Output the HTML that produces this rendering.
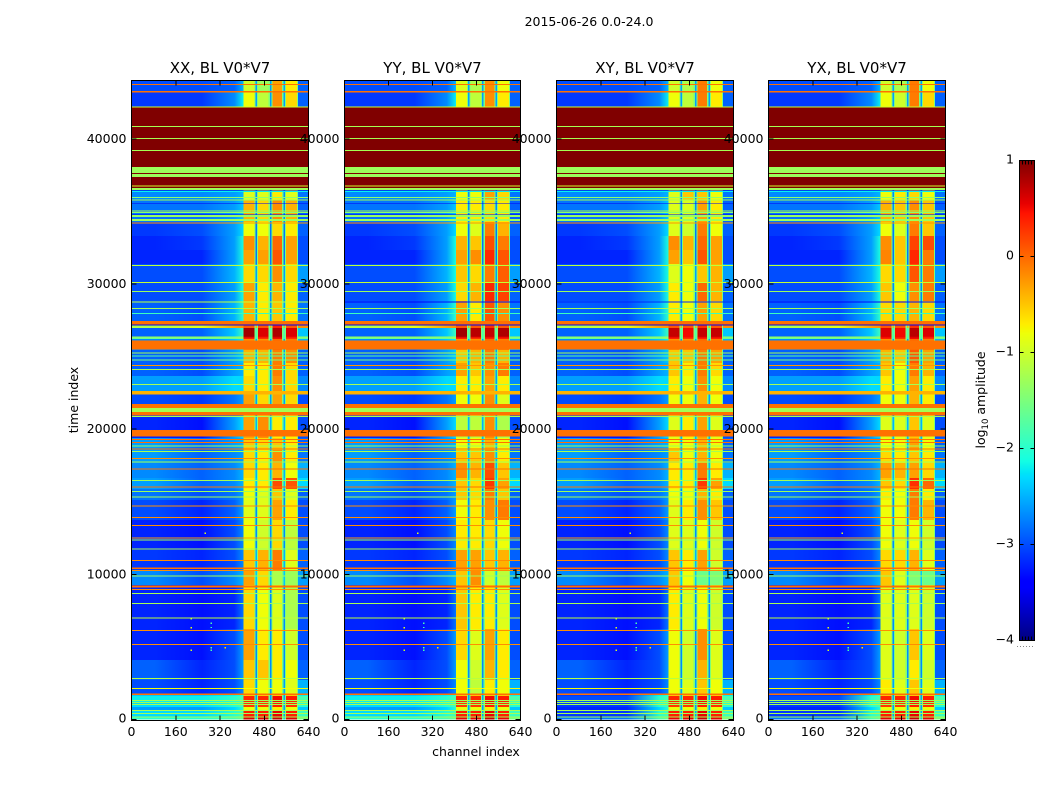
<!DOCTYPE html>
<html lang="en">
<head>
<meta charset="utf-8">
<title>2015-06-26 0.0-24.0</title>
<style>
html,body{margin:0;padding:0;background:#fff;}
svg{display:block;}
text{font-family:"DejaVu Sans","Liberation Sans",sans-serif;font-size:12.5px;fill:#000;}
.title{font-size:15px;}
</style>
</head>
<body>
<svg id="figure" width="1050" height="800" viewBox="0 0 1050 800" xmlns="http://www.w3.org/2000/svg">
  <text x="589" y="26" text-anchor="middle">2015-06-26 0.0-24.0</text>
  <text x="476" y="756" text-anchor="middle">channel index</text>
  <text x="78" y="400" text-anchor="middle" transform="rotate(-90 78 400)">time index</text>
  <g id="panels"></g>
  <g id="colorbar"></g>
  <text x="985" y="400" text-anchor="middle" transform="rotate(-90 985 400)">log<tspan dy="3" font-size="8.5" style="font-size:8.5px">10</tspan><tspan dy="-3"> amplitude</tspan></text>
</svg>
<script>
// ---------- axis data ----------
const channelTicks = [0, 160, 320, 480, 640];
const timeTicks = [0, 10000, 20000, 30000, 40000];
const colorbarTicks = [1, 0, -1, -2, -3, -4];
const panelTitles = ['XX, BL V0*V7', 'YY, BL V0*V7', 'XY, BL V0*V7', 'YX, BL V0*V7'];

// channel boundaries of the heatmap columns, and which value feeds each column
const channelEdges = [0,405,445,449,454,458,496,500,506,510,545,549,555,559,598,602,640];
const columnSource = ['bg','p0','edge','gap','edge','p1','edge','gap','edge','p2','edge','gap','edge','p3','edge','right'];
const edgeValue = -1.5;
// channels at which the background readings below were taken
const backgroundChannels = [85, 255, 372, 405];

// start time of each horizontal section (log10 amplitude values below are per section)
const sectionStart = [0,172,586,861,1206,1619,1757,2722,4100,6236,9267,10232,11679,13746,15123,15881,16639,17673,18569,19396,20842,21738,22634,23667,24563,25459,26217,26320,26389,26974,27147,27456,28834,30144,31384,32348,33313,34278,35794,36483,42202,43236];

const bgLeft  = [-2.0,-2.3,-2.6,-2.3,-2.2,-2.4,-3.0,-2.9,-3.2,-3.2,-2.7,-3.1,-3.2,-3.0,-2.8,-2.6,-2.7,-2.6,-2.6,-3.2,-3.0,-3.0,-2.6,-2.9,-2.9,-2.7,-1.6,-1.3,-2.9,-1.2,-2.0,-2.9,-3.0,-3.0,-3.2,-3.2,-3.1,-2.8,-2.7,1,-3.1,-3.0];
const bgRight = [-2.0,-2.3,-2.6,-2.3,-2.2,-2.4,-3.2,-3.2,-3.3,-3.3,-3.0,-3.2,-3.3,-3.2,-3.0,-2.9,-2.9,-2.9,-2.9,-3.3,-3.0,-3.1,-2.6,-3.0,-3.0,-2.8,-1.6,-1.3,-2.9,-0.9,-2.0,-3.0,-3.0,-3.0,-3.2,-3.1,-3.0,-2.8,-2.7,1,-3.1,-3.0];
const fadeNear = [-1.8,-2.0,-2.3,-2.0,-2.0,-2.2,-3.0,-3.0,-3.0,-3.2,-2.7,-3.0,-3.0,-2.9,-2.8,-2.7,-2.7,-2.7,-2.6,-2.6,-2.8,-2.8,-2.3,-2.6,-2.6,-2.4,-1.6,-1.3,-2.4,-0.3,-2.0,-2.5,-2.6,-2.5,-2.6,-2.6,-2.6,-2.6,-2.6,1,-2.7,-2.9];
const fadeFar = [-1.6,-1.8,-2.0,-1.8,-1.8,-2.0,-2.7,-2.6,-2.6,-2.8,-2.5,-2.7,-2.7,-2.6,-2.6,-2.5,-2.5,-2.6,-2.5,-2.3,-2.6,-2.6,-2.3,-2.5,-2.4,-2.2,-1.4,-1.3,-1.9,-0.2,-2.0,-2.0,-2.1,-2.1,-2.1,-2.1,-2.3,-2.4,-2.5,1,-2.2,-2.5];
const gapLevel = [-2.4,-2.6,-2.6,-2.6,-2.6,-2.6,-2.6,-2.7,-2.7,-2.7,-2.4,-2.5,-2.7,-2.7,-2.7,-2.4,-2.5,-2.5,-2.5,-2.5,-2.6,-2.6,-2.6,-2.6,-2.6,-2.6,-2.0,-1.8,-1.8,-0.4,-2.0,-2.6,-2.7,-2.6,-2.8,-2.8,-2.8,-2.7,-2.7,1,-2.6,-2.6];
const rightBand = [-1.5,-1.9,-2.4,-2.0,-1.8,-2.2,-2.5,-2.9,-3.0,-3.0,-2.6,-2.9,-3.0,-3.0,-2.9,-2.3,-2.5,-2.8,-2.9,-3.0,-3.0,-3.0,-2.7,-2.9,-2.9,-2.5,-1.6,-1.3,-2.4,-0.2,-2.0,-2.8,-2.9,-2.6,-3.0,-3.0,-2.9,-2.9,-2.8,1,-2.9,-2.9];
// XY / YX panels are darker at the left of the lowest sections
const crossBackgroundShift = [-0.8,-0.8,-0.6,-0.8,-0.8,-0.7,0,0,0,0,0,0,0,0,0,0,0,0,0,0,0,0,0,0,0,0,0,0,0,0,0,0,0,0,0,0,0,0,0,0,0,0];

// the four bright channel blocks, per section, one array per polarisation
const xxPeaks = [[.6,.6,.7,.6],[.4,.4,.55,.4],[-.8,-.8,-.7,-.8],[.25,.25,.4,.3],[.35,.35,.5,.4],[-.5,-.5,-.5,-.5],[-.6,-.8,-.8,-.9],[-.5,-.5,-.7,-.8],[-.3,-.7,-.7,-1],[-.6,-.8,-.9,-1.2],[-.3,-.6,-1.2,-1.3],[-.5,-.4,-.1,-.9],[-.8,-1,-.6,-1.1],[-.9,-.9,-.3,-.7],[-.8,-.9,-.5,-.9],[-.7,-.7,.15,.1],[-.6,-.7,-.4,-.8],[-.6,-.7,-.2,-.7],[-.5,-.6,-.5,-.7],[-.3,-.2,-.7,-.7],[-.7,-.7,-.7,-.7],[-.3,-.6,-.3,-.6],[-.6,-.7,-.2,-.6],[-.7,-.7,-.1,-.6],[-.4,-.4,-.1,-.2],[-.2,-.2,0,-.1],[.4,.3,.5,.3],[.7,.5,.7,.5],[.85,.6,.8,.6],[.1,.1,.4,.1],[-.1,-.1,-.1,-.1],[-.4,-.7,-.5,-.7],[-.3,-.7,-.4,-.7],[-.6,-.6,-.2,-.6],[-.3,-.3,.1,-.3],[-.2,-.4,0,-.3],[-.8,-.8,-.6,-.7],[-.4,-.6,-.2,-.4],[-.9,-.9,-.7,-.9],[1,1,1,1],[-.8,-1.1,-.2,-.6],[-1,-1.3,-.3,-.7]];
const yyPeaks = [[.55,.55,.7,.55],[.4,.4,.55,.4],[-.8,-.8,-.7,-.8],[.25,.25,.4,.3],[.35,.35,.5,.4],[-.5,-.5,-.5,-.5],[-.8,-1.1,-.7,-.8],[-.8,-1,-.4,-.7],[-.6,-.9,-.3,-.7],[-.5,-.7,-.7,-.9],[-.5,-.2,-1,-1.1],[-.3,-.3,-.5,-.4],[-.7,-.7,-.6,-.8],[-.8,-.7,-.2,-.1],[-.5,-.6,-.1,-.5],[-.5,-.6,.25,-.3],[-.2,-.4,.15,-.5],[-.5,-.5,-.2,-.7],[-.8,-.8,-.4,-.8],[-1.1,-1.1,-.2,-1.2],[-.9,-.9,-.4,-.9],[-.8,-.8,-.2,-.9],[-.7,-.7,-.3,-.7],[-.3,-.5,-.2,-.1],[-.5,-.4,-.1,-.4],[-.2,-.2,0,-.1],[.4,.3,.4,.4],[.7,.6,.6,.6],[.85,.75,.7,.8],[.1,.1,.3,.1],[-.1,-.1,-.1,-.1],[-.3,-.7,.1,-.2],[-.6,-.4,.35,.2],[-.5,-.6,-.1,.05],[-.3,-.2,.35,.1],[-.4,-.5,.15,-.1],[-.8,-.9,-.1,-.4],[-.7,-.7,-.6,-.7],[-.8,-.8,-.3,-.6],[1,1,1,1],[-.8,-1.1,-.2,-.7],[-.9,-1.2,-.2,-.8]];
const xyPeaks = [[.55,.55,.7,.55],[.4,.4,.55,.4],[-.8,-.8,-.7,-.8],[.25,.25,.4,.3],[.35,.35,.5,.4],[-.5,-.5,-.5,-.5],[-.8,-.9,-.5,-.8],[-.8,-1,-.4,-.9],[-.8,-1,-.2,-.9],[-.7,-.9,-.8,-1],[-.5,-.8,-1.6,-1.5],[-.5,-.7,-.3,-1],[-.9,-.9,-.8,-1],[-.9,-.7,-.2,-.5],[-.8,-.8,-.4,-.7],[-.7,-.7,.25,-.3],[-.7,-.7,-.1,-.7],[-.5,-.8,-.4,-.8],[-.8,-.8,-.4,-.8],[-.9,-.7,-.3,-.9],[-.8,-.8,-.4,-.8],[-.8,-.8,-.4,-.8],[-.7,-.8,-.2,-.8],[-.5,-.7,-.1,-.6],[-.5,-.5,-.1,-.3],[-.2,-.2,0,-.1],[.4,.3,.4,.4],[.6,.5,.6,.6],[.7,.5,.7,.7],[.1,.1,.3,.1],[-.1,-.1,-.1,-.1],[-.7,-.8,-.3,-.6],[-.7,-.8,0,-.4],[-.9,-.8,-.5,-.4],[-.3,-.5,.1,-.3],[-.2,-.4,0,-.3],[-.9,-1,-.1,-.8],[-.9,-.9,-.3,-.7],[-.9,-.5,-.5,-.8],[1,1,1,1],[-.8,-1.1,-.1,-.7],[-1,-1.2,-.1,-.8]];
const yxPeaks = [[.55,.55,.7,.55],[.4,.4,.55,.4],[-.8,-.8,-.7,-.8],[.25,.25,.4,.3],[.35,.35,.5,.4],[-.5,-.5,-.5,-.5],[-.7,-.9,-.5,-.9],[-.9,-1,-.7,-1],[-.9,-1,-.5,-.9],[-.9,-.9,-.9,-1],[-.5,-.9,-1.5,-1.6],[-.6,-.6,-.4,-.9],[-.8,-.9,-.8,-1],[-.8,-.8,-.1,-.4],[-.7,-.8,-.1,-.7],[-.5,-.6,.3,0],[-.3,-.4,-.3,-.6],[-.6,-.7,-.5,-.7],[-.8,-.8,-.3,-.8],[-.9,-.9,-.5,-.9],[-.8,-.8,-.4,-.8],[-.8,-.8,-.4,-.7],[-.7,-.8,-.3,-.7],[-.5,-.8,-.1,-.4],[-.4,-.5,.1,-.3],[-.2,-.2,0,-.1],[.4,.3,.5,.3],[.55,.5,.65,.5],[.6,.5,.75,.6],[.1,.1,.3,.1],[-.1,-.1,-.1,-.1],[-.6,-.6,-.4,-.6],[-.5,-.8,-.2,-.1],[-.6,-.6,.1,-.1],[-.15,-.5,.35,-.1],[-.2,-.5,.2,.15],[-.8,-.9,-.1,-.5],[-.4,-.5,-.2,-.5],[-.8,-.7,-.6,-.8],[1,1,1,1],[-.8,-1,-.1,-.6],[-1,-1.2,-.1,-.8]];
const panelPeaks = [xxPeaks, yyPeaks, xyPeaks, yxPeaks];

// full-width horizontal stripes: start time, duration, log10 amplitude (an array = value per panel)
const stripeStart = [43717,43180,42167,36620,40823,39996,39170,37654,37378,36724,36483,36435,36345,35931,35745,35539,35001,34884,34781,34622,34347,34154,31246,30075,29455,28718,28270,27939,27202,27133,25507,25231,25004,24728,24356,24081,23033,22406,21462,21187,20959,20842,19485,19258,19051,18823,18603,18431,17948,17721,17218,16433,15999,15675,15316,14696,13897,13346,12492,12333,11734,10934,10369,10232,9846,9109,8936,8661,7972,6980,6098,5133,2790,2129,1709,1275,1137,999,586,379,138];
const stripeSpan = [69,103,69,5547,69,69,69,413,207,69,137,48,69,69,69,48,69,69,48,137,137,69,69,69,69,69,69,69,255,69,593,69,69,69,69,69,69,227,276,275,228,69,462,69,69,69,69,69,69,69,69,69,69,69,69,69,69,69,69,69,69,69,96,69,69,138,69,69,69,69,69,69,69,69,96,69,69,69,69,69,69];
const stripeLevel = [-.05,-.05,-1,1,-1.25,-1.25,-1.25,-1.3,-1.3,-1,-1.3,-3.6,-2.2,-1.4,-1.25,-3.5,-1.25,-1.4,-3.5,-1.35,-1.3,-.25,-1.1,-1.05,-1.3,[-1.1,-3.4,-3.2,-3.4],-1.25,-1.9,-.05,-3.5,-.05,-1.25,-1.7,-1.5,-.25,-1.25,-1.25,-.4,-.05,-1.25,-.05,-1.25,-.05,-.05,-.05,-1.25,-.05,-1.25,-.2,-1.25,-.05,-1.25,-.05,-1.3,-1.25,-.2,-.2,-.2,-.3,-1.25,-1.25,-.2,-.05,-.2,-1.25,-.05,-.2,-1.25,-1.25,-1.1,-.2,-.2,-1.15,-.8,-.05,-1.25,-1.3,-1.25,-1.25,-1.25,-1.25];

// isolated bright pixels
const hotChannel = [214,214,286,286,214,286,337,214,286,264];
const hotTime = [7000,6980,6700,6400,6380,5000,5000,4830,4830,12900];
const hotLevel = [-.8,-1.2,-1.8,-1.9,-.9,-1.7,-.6,-1,-1.8,-.9];

// ---------- scales ----------
const SVGNS = 'http://www.w3.org/2000/svg';
const channelMax = 640, timeMax = 44000;
const plotTop = 80.7, plotBottom = 719.7;
const panelLeft = [131.5, 344.5, 556.5, 768.5];
const panelWidth = [177, 176, 177, 177];
const frameTop = 80.5, frameBottom = 720.5;

function timeY(t) { return plotBottom - (t / timeMax) * (plotBottom - plotTop); }
function channelX(p, c) { return panelLeft[p] + (c / channelMax) * panelWidth[p]; }

function lerpStops(t, xs, ys) {
  for (let i = 1; i < xs.length; i++) {
    if (t <= xs[i]) return ys[i-1] + (ys[i] - ys[i-1]) * (t - xs[i-1]) / (xs[i] - xs[i-1]);
  }
  return ys[ys.length - 1];
}
function jetColor(v) {
  const t = Math.max(0, Math.min(1, (v + 4) / 5));
  const r = lerpStops(t, [0,.35,.66,.89,1], [0,0,1,1,.5]);
  const g = lerpStops(t, [0,.125,.375,.64,.91,1], [0,0,1,1,0,0]);
  const b = lerpStops(t, [0,.11,.34,.65,1], [.5,1,1,0,0]);
  return 'rgb(' + Math.round(r*255) + ',' + Math.round(g*255) + ',' + Math.round(b*255) + ')';
}

function addRect(parent, x, y, w, h, fill) {
  const el = document.createElementNS(SVGNS, 'rect');
  el.setAttribute('x', x);
  el.setAttribute('y', y);
  el.setAttribute('width', w);
  el.setAttribute('height', h);
  el.setAttribute('fill', fill);
  parent.appendChild(el);
  return el;
}
function addLine(parent, x1, y1, x2, y2) {
  const el = document.createElementNS(SVGNS, 'line');
  el.setAttribute('x1', x1);
  el.setAttribute('y1', y1);
  el.setAttribute('x2', x2);
  el.setAttribute('y2', y2);
  el.setAttribute('stroke', '#000');
  el.setAttribute('stroke-width', '1');
  el.setAttribute('shape-rendering', 'crispEdges');
  
  parent.appendChild(el);
  return el;
}
function addText(parent, x, y, anchor, str) {
  const el = document.createElementNS(SVGNS, 'text');
  el.setAttribute('x', x);
  el.setAttribute('y', y);
  el.setAttribute('text-anchor', anchor);
  
  el.textContent = str;
  parent.appendChild(el);
  return el;
}
function columnValue(source, s, p) {
  if (source === 'gap') return gapLevel[s];
  if (source === 'right') return rightBand[s];
  if (source === 'edge') return s === 39 ? 1 : edgeValue;
  return panelPeaks[p][s][Number(source.charAt(1))];
}
// background fill of one section: runs through the values read at backgroundChannels
function backgroundFill(defs, s, p) {
  const shift = p >= 2 ? crossBackgroundShift[s] : 0;
  const readings = [bgLeft[s] + shift, bgRight[s] + shift, fadeNear[s], fadeFar[s]];
  const id = 'bg-p' + p + '-s' + s;
  const grad = document.createElementNS(SVGNS, 'linearGradient');
  grad.setAttribute('id', id);
  
  
  readings.forEach(function (level, i) {
    const stop = document.createElementNS(SVGNS, 'stop');
    stop.setAttribute('offset', backgroundChannels[i] / channelEdges[1]);
    stop.setAttribute('stop-color', jetColor(level));
    grad.appendChild(stop);
  });
  defs.appendChild(grad);
  return 'url(#' + id + ')';
}

// ---------- panels ----------
const panelsRoot = document.getElementById('panels');
panelTitles.forEach(function (title, p) {
  const panel = document.createElementNS(SVGNS, 'g');
  
  
  panelsRoot.appendChild(panel);

  const defs = document.createElementNS(SVGNS, 'defs');
  panel.appendChild(defs);

  const heat = document.createElementNS(SVGNS, 'g');
  heat.setAttribute('shape-rendering', 'crispEdges');
  
  
  panel.appendChild(heat);

  sectionStart.forEach(function (start, s) {
    const end = s + 1 < sectionStart.length ? sectionStart[s + 1] : timeMax;
    const yTop = timeY(end);
    const h = timeY(start) - yTop;
    columnSource.forEach(function (source, c) {
      const x0 = channelX(p, channelEdges[c]);
      const x1 = channelX(p, channelEdges[c + 1]);
      const fill = source === 'bg' ? backgroundFill(defs, s, p) : jetColor(columnValue(source, s, p));
      const cell = addRect(heat, x0, yTop, x1 - x0, h, fill);
      
      
    });
  });

  stripeStart.forEach(function (start, i) {
    const level = Array.isArray(stripeLevel[i]) ? stripeLevel[i][p] : stripeLevel[i];
    const yTop = timeY(start + stripeSpan[i]);
    const stripe = addRect(heat, panelLeft[p], yTop, panelWidth[p], timeY(start) - yTop, jetColor(level));
    
    
  });

  hotChannel.forEach(function (ch, i) {
    const hot = addRect(heat, channelX(p, ch), timeY(hotTime[i]), 1.4, 1.4, jetColor(hotLevel[i]));
    
    
  });

  const frame = addRect(panel, panelLeft[p], frameTop, panelWidth[p], frameBottom - frameTop, 'none');
  frame.setAttribute('stroke', '#000');
  frame.setAttribute('stroke-width', '1');
  frame.setAttribute('shape-rendering', 'crispEdges');
  
  

  channelTicks.forEach(function (ch) {
    const x = channelX(p, ch);
    const tickB = addLine(panel, x, frameBottom, x, frameBottom - 5);
    
    const tickT = addLine(panel, x, frameTop, x, frameTop + 5);
    
    const label = addText(panel, x, 736, 'middle', String(ch));
    
  });
  timeTicks.forEach(function (t) {
    const y = timeY(t);
    const tickL = addLine(panel, panelLeft[p], y, panelLeft[p] + 5, y);
    
    const tickR = addLine(panel, panelLeft[p] + panelWidth[p], y, panelLeft[p] + panelWidth[p] - 5, y);
    
    const label = addText(panel, panelLeft[p] - 5, (t === 0 ? y - 1 : y) + 4, 'end', String(t));
    
  });

  const titleEl = addText(panel, panelLeft[p] + panelWidth[p] / 2, 73, 'middle', title);
  titleEl.setAttribute('class', 'title');
  
});

// ---------- colorbar ----------
const barRoot = document.getElementById('colorbar');
const barLeft = 1019.5, barWidth = 15, barTop = 160.5, barBottom = 640.5;
function barY(v) { return barBottom - ((v + 4) / 5) * (barBottom - barTop); }

const barFill = document.createElementNS(SVGNS, 'g');
barFill.setAttribute('shape-rendering', 'crispEdges');


barRoot.appendChild(barFill);
for (let y = barTop; y < barBottom; y += 2) {
  const level = -4 + 5 * (barBottom - y - 1) / (barBottom - barTop);
  const step = addRect(barFill, barLeft, y, barWidth, 2, jetColor(level));
  
  
}
const barFrame = addRect(barRoot, barLeft, barTop, barWidth, barBottom - barTop, 'none');
barFrame.setAttribute('stroke', '#000');
barFrame.setAttribute('stroke-width', '1');
barFrame.setAttribute('shape-rendering', 'crispEdges');



colorbarTicks.forEach(function (v) {
  const y = barY(v);
  if (v !== 1 && v !== -4) {
    const tickL = addLine(barRoot, barLeft, y, barLeft + 4, y);
    
    const tickR = addLine(barRoot, barLeft + barWidth, y, barLeft + barWidth - 4, y);
    
  }
  const label = addText(barRoot, 1014, y + 3, 'end', (v < 0 ? '\u2212' : '') + Math.abs(v));
  
});
[3, 6, 9, 12].forEach(function (dx) {
  const tickT = addLine(barRoot, barLeft + dx, barTop, barLeft + dx, barTop + 4);
  
  const tickB = addLine(barRoot, barLeft + dx, barBottom, barLeft + dx, barBottom - 4);
  
});
const dots = addLine(barRoot, 1017, 646.5, 1035, 646.5);
dots.setAttribute('stroke', '#888');
dots.setAttribute('stroke-dasharray', '1 2');

</script>
</body>
</html>
